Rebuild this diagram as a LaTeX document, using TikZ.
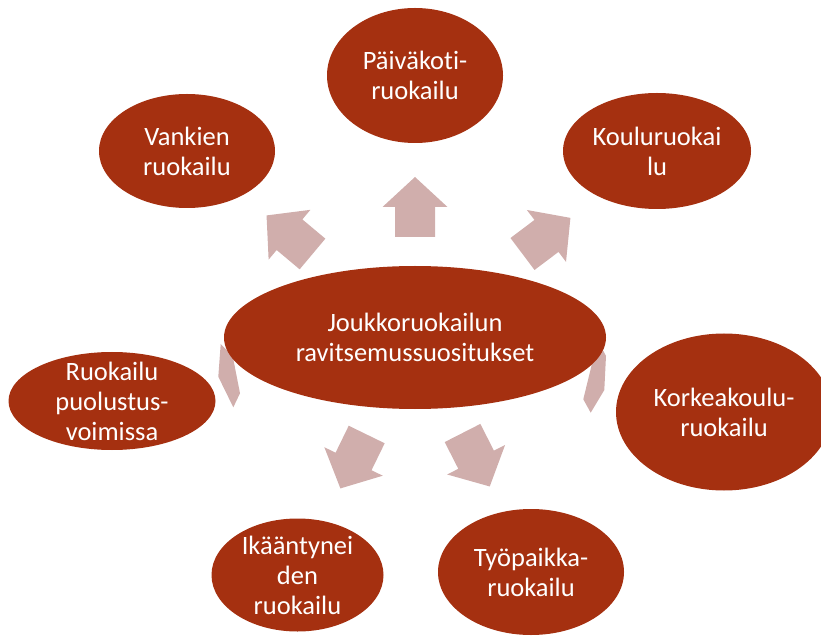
\documentclass[tikz,border=0pt]{standalone}
\usepackage{fontspec}
\setmainfont{Carlito}[Ligatures={NoCommon}]
\usetikzlibrary{shapes.geometric}

\definecolor{rust}{RGB}{165,48,16}
\definecolor{blush}{RGB}{208,174,172}

% block arrow, base at #1, pointing at angle #2
\newcommand{\radarrow}[2]{%
  \fill[blush, shift={(#1)}, rotate=#2] (0,-20) -- (30,-20) -- (30,-32.5) -- (60,0)
    -- (30,32.5) -- (30,20) -- (0,20) -- cycle;}

\begin{document}
\begin{tikzpicture}[x=1pt, y=1pt,
    bubble/.style={ellipse, fill=rust, inner sep=0pt},
    caption/.style={text=white, align=center, font=\fontsize{26.5}{30}\selectfont}]

  \useasboundingbox (0,0) rectangle (821,635);

  % arrows (behind the bubbles)
  \coordinate (a-up) at (415,398);
  \coordinate (a-ul) at (312.5,381);
  \coordinate (a-ur) at (522.5,381);
  \coordinate (a-dl) at (366.7,200.5);
  \coordinate (a-dr) at (462.5,202);
  \radarrow{a-up}{90}
  \radarrow{a-ul}{140}
  \radarrow{a-ur}{37}
  \radarrow{a-dl}{-116}
  \radarrow{a-dr}{-63}
  \fill[blush] (220.7,291) -- (232.7,279) -- (240,241.7) -- (233.3,227.7) -- (218.3,258.3) -- cycle;
  \fill[blush] (603.3,284.3) -- (606,279) -- (604.3,245) -- (590.7,222.3) -- (583.3,235.7) -- (592.7,274.3) -- cycle;

  % centre
  \node[bubble, minimum width=382pt, minimum height=143pt,
    label={[caption]center:{Joukkoruokailun\\ravitsemussuositukset}}] (hub) at (415,297.5) {};

  % outer bubbles
  \node[bubble, minimum width=176pt, minimum height=135pt,
    label={[caption]center:{Päiväkoti-\\ruokailu}}] (paivakoti) at (415,559.5) {};
  \node[bubble, minimum width=176pt, minimum height=114pt,
    label={[caption]center:{Vankien\\ruokailu}}] (vankien) at (187,484) {};
  \node[bubble, minimum width=188pt, minimum height=116pt,
    label={[caption]center:{Kouluruokai\\lu}}] (koulu) at (657,484) {};
  \node[bubble, minimum width=207pt, minimum height=98pt,
    label={[caption]center:{Ruokailu\\puolustus-\\voimissa}}] (puolustus) at (112,234) {};
  \node[bubble, minimum width=216pt, minimum height=157pt,
    label={[caption]center:{Korkeakoulu-\\ruokailu}}] (korkea) at (724,223) {};
  \node[bubble, minimum width=172pt, minimum height=113pt,
    label={[caption]center:{Ikääntynei\\den\\ruokailu}}] (ikaant) at (297.5,60) {};
  \node[bubble, minimum width=186pt, minimum height=126pt,
    label={[caption]center:{Työpaikka-\\ruokailu}}] (tyopaikka) at (531,63) {};
\end{tikzpicture}
\end{document}
